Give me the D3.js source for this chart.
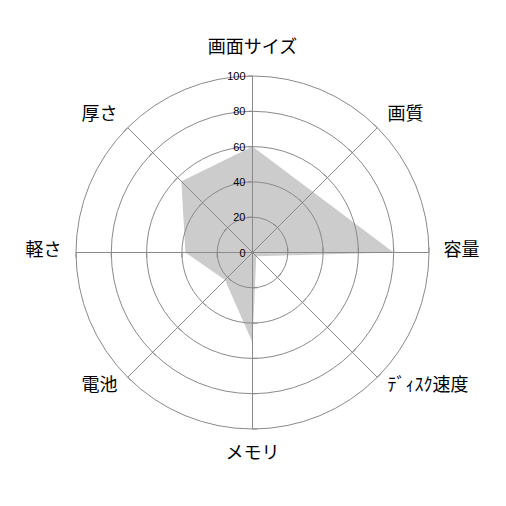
<!DOCTYPE html>
<html>
<head>
<meta charset="utf-8">
<script src="https://cdn.jsdelivr.net/npm/d3@7"></script>
<style>
html,body{margin:0;padding:0;background:#fff;}
svg{display:block;}
</style>
</head>
<body>
<svg id="chart" width="506" height="506"></svg>
<script>
const categories = ["画面サイズ", "画質", "容量", "ﾃﾞｨｽｸ速度", "メモリ", "電池", "軽さ", "厚さ"];
const values = [60, 48.5, 80, 3, 51, 22, 38, 57];
const ringTicks = [20, 40, 60, 80, 100];
const tickLabels = ["0", "20", "40", "60", "80", "100"];

const W = 506, H = 506;
const cx = 252.5, cy = 252.5, R = 176.5;
const svg = d3.select("#chart");
const g = svg.append("g").attr("transform", `translate(${cx},${cy})`);

const r = d3.scaleLinear().domain([0, 100]).range([0, R]);
const angle = d3.scaleLinear().domain([0, categories.length]).range([0, 2 * Math.PI]);
const gridColor = "#8a8a8a";

// data polygon
const radial = d3.lineRadial()
  .angle((d, i) => angle(i))
  .radius(d => r(d))
  .curve(d3.curveLinearClosed);
g.append("path")
  .datum(values)
  .attr("d", radial)
  .attr("fill", "#cccccc")
  .attr("stroke", "none");

// rings
g.selectAll("circle.ring").data(ringTicks).enter().append("circle")
  .attr("class", "ring")
  .attr("r", d => r(d))
  .attr("fill", "none")
  .attr("stroke", gridColor)
  .attr("stroke-width", 1);

// spokes and ticks
categories.forEach((c, i) => {
  const a = angle(i);
  const dx = Math.sin(a), dy = -Math.cos(a);
  g.append("line")
    .attr("x1", 0).attr("y1", 0)
    .attr("x2", dx * r(100)).attr("y2", dy * r(100))
    .attr("stroke", gridColor).attr("stroke-width", 1);
  const tx = dy, ty = -dx; // counter-clockwise perpendicular
  ringTicks.forEach(t => {
    const px = dx * r(t), py = dy * r(t);
    g.append("line")
      .attr("x1", px).attr("y1", py)
      .attr("x2", px + tx * 5).attr("y2", py + ty * 5)
      .attr("stroke", gridColor).attr("stroke-width", 1);
  });
});

// tick labels on vertical axis
g.selectAll("text.tick").data(tickLabels).enter().append("text")
  .attr("class", "tick")
  .attr("x", -7)
  .attr("y", d => -r(+d))
  .attr("text-anchor", "end")
  .attr("dominant-baseline", "central")
  .attr("font-family", "'Liberation Sans', Arial, sans-serif")
  .attr("font-size", 11)
  .attr("fill", "#000")
  .text(d => d);

// category labels
const LR = 191;
g.selectAll("text.cat").data(categories).enter().append("text")
  .attr("class", "cat")
  .attr("x", (d, i) => Math.sin(angle(i)) * LR)
  .attr("y", (d, i) => {
    const c = Math.cos(angle(i));
    let y = -c * LR - 5;
    if (c > 0.99) y -= 12;
    if (c < -0.99) y += 12;
    return y;
  })
  .attr("text-anchor", (d, i) => {
    const s = Math.sin(angle(i));
    return s > 0.01 ? "start" : (s < -0.01 ? "end" : "middle");
  })
  .attr("dominant-baseline", "central")
  .attr("font-family", "'Noto Sans CJK JP', sans-serif")
  .attr("font-size", 18)
  .attr("fill", "#000")
  .text(d => d);
</script>
</body>
</html>
